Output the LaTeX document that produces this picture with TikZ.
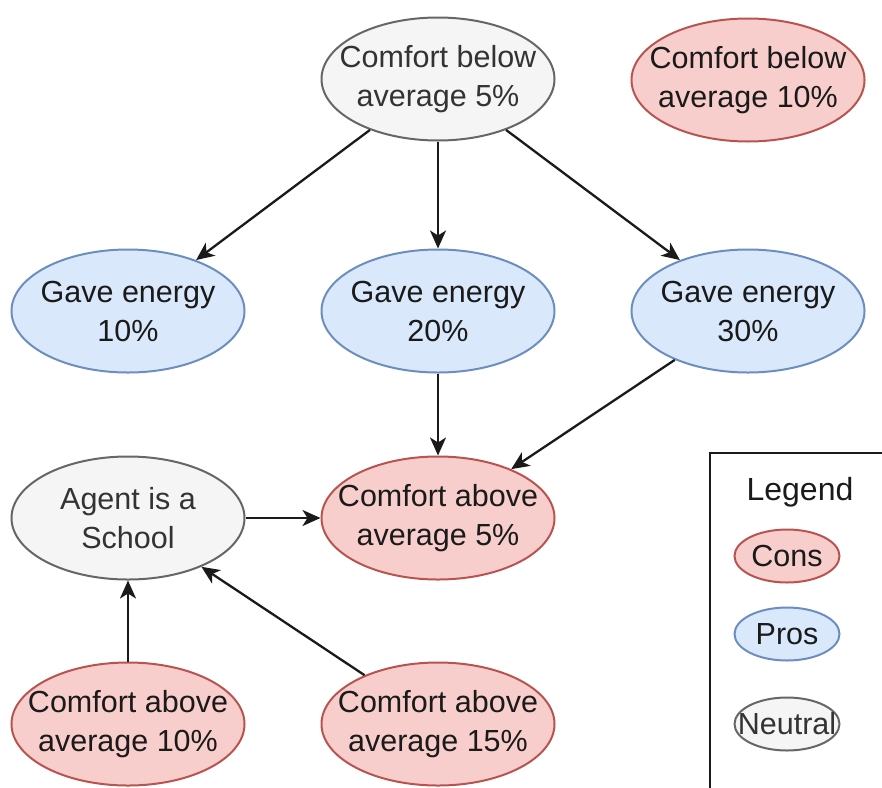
\documentclass[tikz,border=0pt]{standalone}
\usepackage{fontspec}
\setmainfont{Liberation Sans}
\definecolor{consFill}{HTML}{F8CECC}
\definecolor{consLine}{HTML}{B85450}
\definecolor{prosFill}{HTML}{DAE8FC}
\definecolor{prosLine}{HTML}{6C8EBF}
\definecolor{neutFill}{HTML}{F5F5F5}
\definecolor{neutLine}{HTML}{666666}
\definecolor{neutText}{HTML}{333333}
\definecolor{textDark}{HTML}{1A1A1A}
\usetikzlibrary{shapes, arrows.meta, positioning}

\begin{document}
\begin{tikzpicture}[
                x=1pt, y=-1pt,
                every node/.style={align=center, font=\fontsize{30.5}{39}\selectfont},
                factor/.style={ellipse, draw, line width=2pt, minimum width=233pt, minimum height=123pt, inner xsep=-30pt, inner ysep=-12pt},
                cons/.style={factor, fill=consFill, draw=consLine, text=textDark},
                pros/.style={factor, fill=prosFill, draw=prosLine, text=textDark},
                neutral/.style={factor, fill=neutFill, draw=neutLine, text=neutText},
                legitem/.style={minimum width=105pt, minimum height=53pt, inner xsep=-20pt, inner ysep=-10pt},
                link/.style={-{Stealth[length=18pt, width=16pt, inset=5pt]}, line width=2.3pt, draw=textDark}
            ]
                \useasboundingbox (0,0) rectangle (882,787);

                % top row
                \node[neutral] (below5) at (438,79) {Comfort below\\average 5\%};
                \node[cons] (below10) at (748,80) {Comfort below\\average 10\%};

                % energy row
                \node[pros] (energy10) at (128,311) {Gave energy\\10\%};
                \node[pros] (energy20) at (438,311) {Gave energy\\20\%};
                \node[pros] (energy30) at (748,311) {Gave energy\\30\%};

                % middle row
                \node[neutral] (school) at (128,518) {Agent is a\\School};
                \node[cons] (above5) at (438,518) {Comfort above\\average 5\%};

                % bottom row
                \node[cons] (above10) at (128,724) {Comfort above\\average 10\%};
                \node[cons] (above15) at (438,724) {Comfort above\\average 15\%};

                \draw[link] (below5) -- (energy10);
                \draw[link] (below5) -- (energy20);
                \draw[link] (below5) -- (energy30);
                \draw[link] (energy20) -- (above5);
                \draw[link] (energy30) -- (above5);
                \draw[link] (school) -- (above5);
                \draw[link] (above10) -- (school);
                \draw[link] (above15) -- (school);

                % legend
                \draw[line width=2.5pt, draw=textDark] (710,800) |- (900,453);
                \node[text=textDark, font=\fontsize{32}{39}\selectfont] (legtitle) at (800,492) {Legend};
                \node[cons, legitem] (legcons) at (787,556) {Cons};
                \node[pros, legitem, below=23pt of legcons] (legpros) {Pros};
                \node[neutral, legitem, below=35pt of legpros, label={[font=\fontsize{30.5}{39}\selectfont, text=neutText]center:Neutral}] (legneut) {};
            \end{tikzpicture}
\end{document}
